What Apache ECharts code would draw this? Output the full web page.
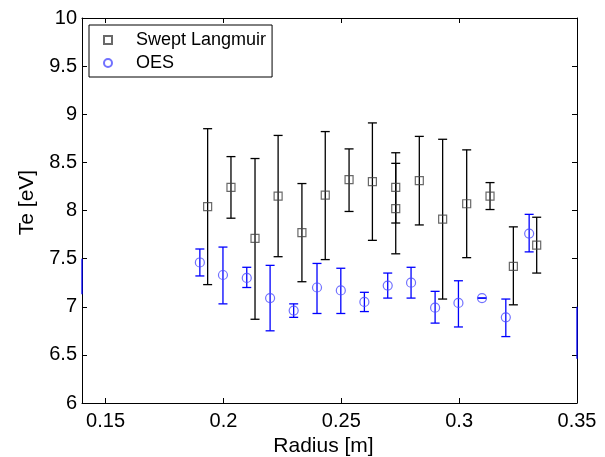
<!DOCTYPE html>
<html><head><meta charset="utf-8">
<script src="https://cdn.jsdelivr.net/npm/echarts@6/dist/echarts.min.js"></script>
<style>html,body{margin:0;padding:0;background:#fff}#c{width:605px;height:457px}</style>
</head><body><div id="c"></div>
<script>
// Swept Langmuir probe data
const slX    = [0.1933, 0.2032, 0.2134, 0.2232, 0.2333, 0.2432, 0.2533, 0.2632, 0.2731, 0.2731, 0.2831, 0.2930, 0.3032, 0.3131, 0.3230, 0.3329];
const slY    = [8.04,   8.24,   7.71,   8.15,   7.77,   8.16,   8.32,   8.30,   8.24,   8.02,   8.31,   7.91,   8.07,   8.15,   7.42,   7.64];
const slLow  = [7.23,   7.92,   6.87,   7.52,   7.26,   7.49,   7.99,   7.69,   7.87,   7.55,   7.85,   7.08,   7.51,   8.01,   7.02,   7.35];
const slHigh = [8.85,   8.56,   8.54,   8.78,   8.28,   8.82,   8.64,   8.91,   8.60,   8.49,   8.77,   8.74,   8.63,   8.29,   7.83,   7.93];
// OES data
const oesX    = [0.1900, 0.1998, 0.2099, 0.2198, 0.2298, 0.2397, 0.2498, 0.2598, 0.2697, 0.2796, 0.2898, 0.2997, 0.3097, 0.3198, 0.3297];
const oesY    = [7.46,   7.33,   7.30,   7.09,   6.96,   7.20,   7.17,   7.05,   7.22,   7.25,   6.99,   7.04,   7.09,   6.89,   7.76];
const oesLow  = [7.32,   7.03,   7.20,   6.75,   6.89,   6.93,   6.93,   6.95,   7.09,   7.09,   6.83,   6.79,   7.09,   6.69,   7.57];
const oesHigh = [7.60,   7.62,   7.41,   7.43,   7.03,   7.45,   7.40,   7.15,   7.35,   7.41,   7.16,   7.27,   7.09,   7.08,   7.96];
// OES error bars sitting on the plot edges (markers outside the view)
const oesEdgeX    = [0.14, 0.35];
const oesEdgeLow  = [7.13, 6.46];
const oesEdgeHigh = [7.50, 7.00];
// axis ticks
const xTicks = [0.15, 0.2, 0.25, 0.3, 0.35];
const yTicks = [6, 6.5, 7, 7.5, 8, 8.5, 9, 9.5, 10];

const FONT = '"Liberation Sans", Arial, Helvetica, sans-serif';

function errRender(color, capHalf) {
  return function (params, api) {
    const x = api.value(0), lo = api.value(1), hi = api.value(2);
    const pLo = api.coord([x, lo]), pHi = api.coord([x, hi]);
    const st = { stroke: color, lineWidth: 1.3 };
    const children = [
      { type: 'line', shape: { x1: pLo[0], y1: pLo[1], x2: pHi[0], y2: pHi[1] }, style: st }
    ];
    if (capHalf > 0) {
      children.push({ type: 'line', shape: { x1: pLo[0] - capHalf, y1: pLo[1], x2: pLo[0] + capHalf, y2: pLo[1] }, style: st });
      children.push({ type: 'line', shape: { x1: pHi[0] - capHalf, y1: pHi[1], x2: pHi[0] + capHalf, y2: pHi[1] }, style: st });
    }
    return { type: 'group', children: children };
  };
}

const slErr = slX.map((x, i) => [x, slLow[i], slHigh[i]]);
const oesErr = oesX.map((x, i) => [x, oesLow[i], oesHigh[i]]);
const edgeErr = oesEdgeX.map((x, i) => [x, oesEdgeLow[i], oesEdgeHigh[i]]);

const chart = echarts.init(document.getElementById('c'), null, { renderer: 'canvas' });
const axisCommon = {
  axisLine: { show: true, onZero: false, lineStyle: { color: '#000', width: 1 } },
  splitLine: { show: false },
};
chart.setOption({
  animation: false,
  backgroundColor: '#fff',
  textStyle: { fontFamily: FONT },
  grid: { left: 82, right: 28, top: 18, bottom: 54, containLabel: false, outerBoundsMode: 'none' },
  legend: {
    left: 89, top: 25, orient: 'vertical',
    borderColor: '#000', borderWidth: 1, borderRadius: 0,
    padding: [6, 6, 5, 14], itemGap: 5,
    itemWidth: 8, itemHeight: 8,
    textStyle: { fontFamily: FONT, fontSize: 18, color: '#000', padding: [0, 0, 0, 19] },
    data: [
      { name: 'Swept Langmuir', icon: 'rect' },
      { name: 'OES', icon: 'circle' }
    ]
  },
  xAxis: [
    Object.assign({}, axisCommon, {
      type: 'value', min: 0.14, max: 0.35, position: 'bottom',
      name: 'Radius [m]', nameLocation: 'middle', nameGap: 26,
      nameTextStyle: { fontFamily: FONT, fontSize: 21, color: '#000', padding: [0, 12, 0, 0] },
      axisTick: { show: true, inside: true, length: 5, customValues: xTicks, lineStyle: { color: '#000' } },
      axisLabel: { show: true, customValues: xTicks, margin: 8, fontFamily: FONT, fontSize: 20, color: '#000',
                   formatter: v => String(+v.toFixed(2)) }
    }),
    Object.assign({}, axisCommon, {
      type: 'value', min: 0.14, max: 0.35, position: 'top',
      axisTick: { show: true, inside: true, length: 5, customValues: xTicks, lineStyle: { color: '#000' } },
      axisLabel: { show: false }
    })
  ],
  yAxis: [
    Object.assign({}, axisCommon, {
      type: 'value', min: 6, max: 10, position: 'left',
      name: 'Te [eV]', nameLocation: 'middle', nameGap: 44, nameRotate: 90,
      nameTextStyle: { fontFamily: FONT, fontSize: 21, color: '#000', padding: [0, 0, 0, 16] },
      axisTick: { show: true, inside: true, length: 5, customValues: yTicks, lineStyle: { color: '#000' } },
      axisLabel: { show: true, customValues: yTicks, margin: 5, fontFamily: FONT, fontSize: 20, color: '#000',
                   formatter: v => String(+v.toFixed(1)) }
    }),
    Object.assign({}, axisCommon, {
      type: 'value', min: 6, max: 10, position: 'right',
      axisTick: { show: true, inside: true, length: 5, customValues: yTicks, lineStyle: { color: '#000' } },
      axisLabel: { show: false }
    })
  ],
  series: [
    { type: 'custom', name: 'slErr', renderItem: errRender('#000', 4.5), data: slErr, clip: true,
      encode: { x: 0, y: [1, 2] }, z: 2, silent: true },
    { type: 'custom', name: 'oesErr', renderItem: errRender('#0000ff', 4.5), data: oesErr, clip: true,
      encode: { x: 0, y: [1, 2] }, z: 2, silent: true },
    { type: 'custom', name: 'edgeErr', renderItem: errRender('#0000ff', 0), data: edgeErr, clip: false,
      encode: { x: 0, y: [1, 2] }, z: 5, silent: true },
    { type: 'scatter', name: 'Swept Langmuir', symbol: 'rect', symbolSize: 8,
      data: slX.map((x, i) => [x, slY[i]]), z: 3,
      itemStyle: { color: 'rgba(0,0,0,0)', borderColor: '#444', borderWidth: 1.2 } },
    { type: 'scatter', name: 'OES', symbol: 'circle', symbolSize: 9,
      data: oesX.map((x, i) => [x, oesY[i]]), z: 3,
      itemStyle: { color: 'rgba(0,0,0,0)', borderColor: '#4d4dff', borderWidth: 1.2 } }
  ]
});
</script>
</body></html>
